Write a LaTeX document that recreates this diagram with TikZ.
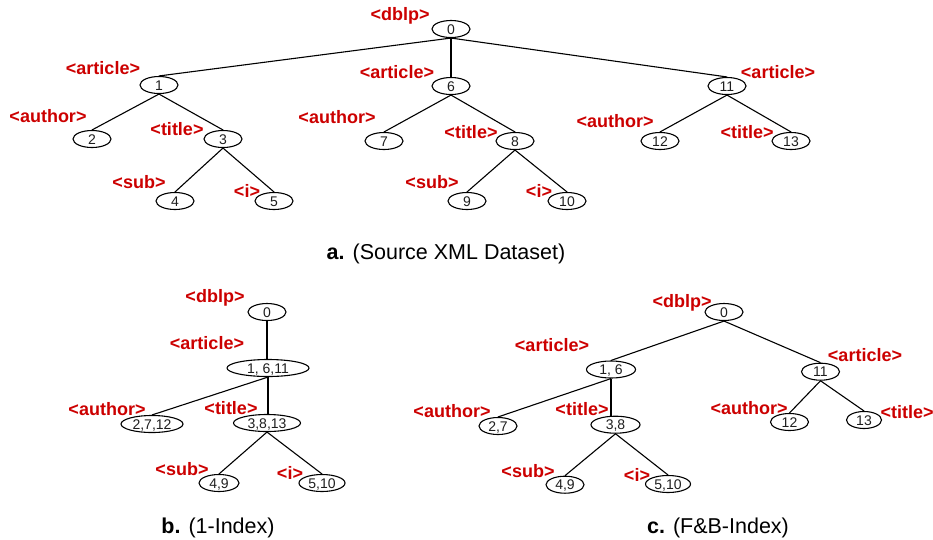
\documentclass[tikz,border=0pt]{standalone}
\usepackage{fontspec}
\setmainfont{Liberation Sans}
\usetikzlibrary{shapes.geometric}
\definecolor{tagred}{RGB}{204,0,0}
\definecolor{numgray}{RGB}{30,30,30}
\begin{document}
\begin{tikzpicture}[x=1pt,y=-1pt,
  elem/.style={ellipse,draw,line width=1.1pt,inner sep=0pt,minimum width=38pt,
    minimum height=17pt,text height=10pt,text depth=0pt,
    font=\fontsize{14}{14}\selectfont,text=numgray},
  tag/.style={inner sep=0pt,text height=13pt,text depth=0pt,text=tagred,
    font=\fontsize{18}{18}\selectfont\bfseries},
  edge/.style={line width=1.1pt},
  caption/.style={anchor=base,inner sep=0pt,font=\fontsize{21.5}{21.5}\selectfont}]
\useasboundingbox (0,0) rectangle (933,539);

% ---------------- a. source XML data tree ----------------
\node[elem] (a0)  at (451,29)  {0};
\node[elem] (a1)  at (159,85)  {1};
\node[elem] (a6)  at (451,86)  {6};
\node[elem] (a11) at (727,86)  {11};
\node[elem] (a2)  at (92,139)  {2};
\node[elem] (a3)  at (223,139) {3};
\node[elem] (a7)  at (384,141) {7};
\node[elem] (a8)  at (515,141) {8};
\node[elem] (a12) at (660,141) {12};
\node[elem] (a13) at (791,141) {13};
\node[elem] (a4)  at (175,201) {4};
\node[elem] (a5)  at (274,201) {5};
\node[elem] (a9)  at (467,201) {9};
\node[elem] (a10) at (567,201) {10};

\node[tag] (ta0)  at (400,14)  {<dblp>};
\node[tag] (ta1)  at (103,68)  {<article>};
\node[tag] (ta2)  at (48,116)  {<author>};
\node[tag] (ta3)  at (177,129) {<title>};
\node[tag] (ta4)  at (139,182) {<sub>};
\node[tag] (ta5)  at (247,191) {<i>};
\node[tag] (ta6)  at (397,72)  {<article>};
\node[tag] (ta7)  at (337,117) {<author>};
\node[tag] (ta8)  at (471,132) {<title>};
\node[tag] (ta9)  at (432,182) {<sub>};
\node[tag] (ta10) at (539,191) {<i>};
\node[tag] (ta11) at (778,72)  {<article>};
\node[tag] (ta12) at (615,121) {<author>};
\node[tag] (ta13) at (747,132) {<title>};

\draw[edge] (a0.south) -- (a1.north);
\draw[edge] (a0.south) -- (a6.north);
\draw[edge] (a0.south) -- (a11.north);
\draw[edge] (a1.south) -- (a2.north);
\draw[edge] (a1.south) -- (a3.north);
\draw[edge] (a3.south) -- (a4.north);
\draw[edge] (a3.south) -- (a5.north);
\draw[edge] (a6.south) -- (a7.north);
\draw[edge] (a6.south) -- (a8.north);
\draw[edge] (a8.south) -- (a9.north);
\draw[edge] (a8.south) -- (a10.north);
\draw[edge] (a11.south) -- (a12.north);
\draw[edge] (a11.south) -- (a13.north);

\node[caption] (capa) at (446,259) {\textbf{a.} (Source XML Dataset)};

% ---------------- b. 1-Index ----------------
\node[elem] (b0) at (267,312) {0};
\node[elem,minimum width=82pt] (b1) at (268,368) {1, 6,11};
\node[elem,minimum width=62pt] (b2) at (152,424) {2,7,12};
\node[elem,minimum width=67pt] (b3) at (267,423) {3,8,13};
\node[elem,minimum width=40pt] (b4) at (219,483) {4,9};
\node[elem,minimum width=46pt] (b5) at (322,483) {5,10};

\node[tag] (tb0) at (215,296) {<dblp>};
\node[tag] (tb1) at (207,343) {<article>};
\node[tag] (tb2) at (107,409) {<author>};
\node[tag] (tb3) at (231,408) {<title>};
\node[tag] (tb4) at (182,469) {<sub>};
\node[tag] (tb5) at (290,473) {<i>};

\draw[edge] (b0.south) -- (b0.south |- b1.north);
\draw[edge] (b1.south) -- (b2.north);
\draw[edge] (b1.south) -- (b1.south |- b3.north);
\draw[edge] (b3.south) -- (b4.north);
\draw[edge] (b3.south) -- (b5.north);

\node[caption] (capb) at (218,533) {\textbf{b.} (1-Index)};

% ---------------- c. F&B-Index ----------------
\node[elem] (c0) at (724,312) {0};
\node[elem,minimum width=49pt] (c1) at (611,369.5) {1, 6};
\node[elem] (c11) at (820.5,371.7) {11};
\node[elem] (c2) at (498,426) {2,7};
\node[elem,minimum width=49pt] (c3) at (615.5,424.7) {3,8};
\node[elem] (c12) at (789.5,422) {12};
\node[elem,minimum width=35pt] (c13) at (864,420) {13};
\node[elem] (c4) at (565,484.7) {4,9};
\node[elem,minimum width=45pt] (c5) at (668,484) {5,10};

\node[tag] (tc0)  at (682,301) {<dblp>};
\node[tag] (tc1)  at (552,345) {<article>};
\node[tag] (tc11) at (865,355) {<article>};
\node[tag] (tc2)  at (452,411) {<author>};
\node[tag] (tc3)  at (582,409) {<title>};
\node[tag] (tc12) at (749,408) {<author>};
\node[tag] (tc13) at (907,412) {<title>};
\node[tag] (tc4)  at (528,471) {<sub>};
\node[tag] (tc5)  at (637,475) {<i>};

\draw[edge] (c0.south) -- (c1.north);
\draw[edge] (c0.south) -- (c11.north);
\draw[edge] (c1.south) -- (c2.north);
\draw[edge] (c1.south) -- (c1.south |- c3.north);
\draw[edge] (c3.south) -- (c4.north);
\draw[edge] (c3.south) -- (c5.north);
\draw[edge] (c11.south) -- (c12.north);
\draw[edge] (c11.south) -- (c13.north);

\node[caption] (capc) at (718,533) {\textbf{c.} (F\&B-Index)};
\end{tikzpicture}
\end{document}
